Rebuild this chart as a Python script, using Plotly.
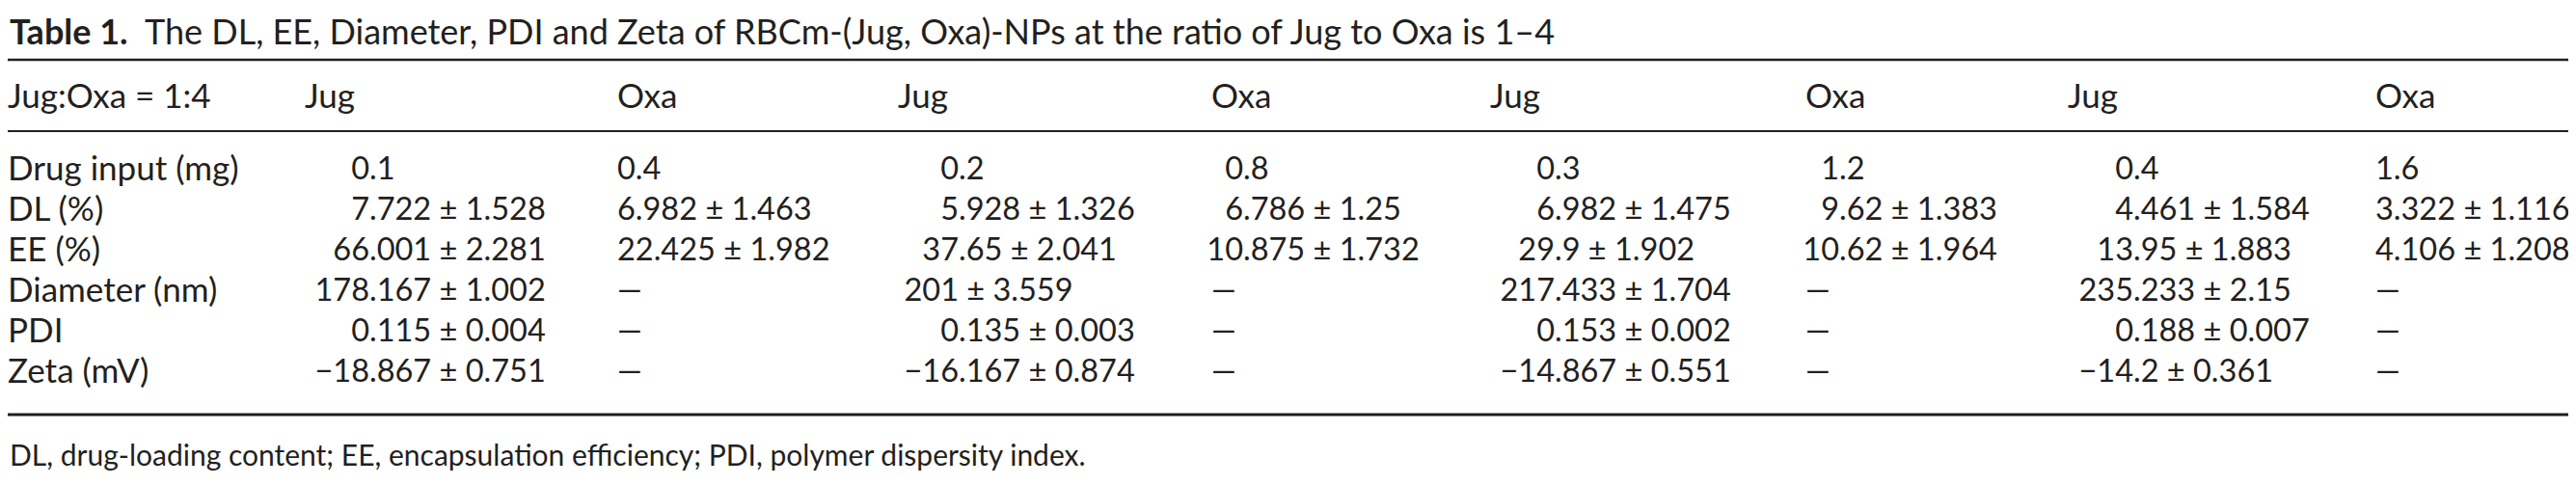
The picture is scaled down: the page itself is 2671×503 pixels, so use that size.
import plotly.graph_objects as go

# table content
row_labels = ["Drug input (mg)", "DL (%)", "EE (%)", "Diameter (nm)", "PDI", "Zeta (mV)"]
drugs = ["Jug", "Oxa"]
ratio_label = "Jug:Oxa = 1:4"

jug_input = [0.1, 0.2, 0.3, 0.4]
oxa_input = [0.4, 0.8, 1.2, 1.6]
jug_dl = [7.722, 5.928, 6.982, 4.461]
jug_dl_sd = [1.528, 1.326, 1.475, 1.584]
oxa_dl = [6.982, 6.786, 9.62, 3.322]
oxa_dl_sd = [1.463, 1.25, 1.383, 1.116]
jug_ee = [66.001, 37.65, 29.9, 13.95]
jug_ee_sd = [2.281, 2.041, 1.902, 1.883]
oxa_ee = [22.425, 10.875, 10.62, 4.106]
oxa_ee_sd = [1.982, 1.732, 1.964, 1.208]
diameter = [178.167, 201, 217.433, 235.233]
diameter_sd = [1.002, 3.559, 1.704, 2.15]
pdi = [0.115, 0.135, 0.153, 0.188]
pdi_sd = [0.004, 0.003, 0.002, 0.007]
zeta = [-18.867, -16.167, -14.867, -14.2]
zeta_sd = [0.751, 0.874, 0.551, 0.361]

title = "<b>Table 1.</b>  The DL, EE, Diameter, PDI and Zeta of RBCm-(Jug, Oxa)-NPs at the ratio of Jug to Oxa is 1–4"
footnote = "DL, drug-loading content; EE, encapsulation efficiency; PDI, polymer dispersity index."

# layout (pixels)
W, H = 2671, 503
FONT = "Lato"
SIZE = 35
NUM_SIZE = 32.5
TITLE_SIZE = 36
NOTE_SIZE = 30
INK = "#231f20"
header_y = 95
row_y0 = 170
row_step = 42
footnote_y = 463
rules = [(54, 2.5), (128, 2), (422, 3)]
jug_head_x = [308, 923, 1537, 2136]
oxa_head_x = [632, 1248, 1864, 2455]
jug_dec_x = [375, 986, 1604, 2204]
oxa_dec_x = [None, 1281, 1899, None]  # None -> plain left aligned


def num(v):
    return f"{v:g}".replace("-", "−")


def cell(m, sd=None):
    return num(m) if sd is None else f"{num(m)} ± {num(sd)}"


def column(inp, means_sds, i):
    out = [cell(inp[i])]
    for pair in means_sds:
        out.append("—" if pair is None else cell(pair[0][i], pair[1][i]))
    return out


jug_cols = [column(jug_input, [(jug_dl, jug_dl_sd), (jug_ee, jug_ee_sd), (diameter, diameter_sd),
                               (pdi, pdi_sd), (zeta, zeta_sd)], i) for i in range(4)]
oxa_cols = [column(oxa_input, [(oxa_dl, oxa_dl_sd), (oxa_ee, oxa_ee_sd), None, None, None], i)
            for i in range(4)]

row_y = [row_y0 + k * row_step for k in range(len(row_labels))]

fig = go.Figure()


def add_text(xs, ys, texts, pos, size=SIZE):
    fig.add_trace(go.Scatter(
        x=xs, y=ys, text=texts, mode="text", textposition=pos,
        textfont=dict(family=FONT, size=size, color=INK),
        hoverinfo="skip", showlegend=False, cliponaxis=False,
    ))


def add_column(texts, head_x, dec_x):
    # numbers line up on the decimal point of the first value
    lx, ly, lt, rx, ry, rt = [], [], [], [], [], []
    for y, t in zip(row_y, texts):
        if t == "—" or dec_x is None:
            rx.append(head_x); ry.append(y); rt.append(t)
            continue
        first = t.split(" ±")[0]
        left = first.split(".")[0] if "." in first else first
        lx.append(dec_x); ly.append(y); lt.append(left)
        rx.append(dec_x); ry.append(y); rt.append(t[len(left):])
    if lt:
        add_text(lx, ly, lt, "middle left", NUM_SIZE)
    if rt:
        add_text(rx, ry, rt, "middle right", NUM_SIZE)


# header row and stub column
add_text([0] + jug_head_x + oxa_head_x, [header_y] * 9,
         [ratio_label] + [drugs[0]] * 4 + [drugs[1]] * 4, "middle right")
add_text([0] * len(row_labels), row_y, row_labels, "middle right")

for i in range(4):
    add_column(jug_cols[i], jug_head_x[i], jug_dec_x[i])
    add_column(oxa_cols[i], oxa_head_x[i], oxa_dec_x[i])

for y, w in rules:
    fig.add_shape(type="line", xref="paper", x0=0, x1=1, yref="y", y0=y, y1=y,
                  line=dict(color=INK, width=w))

fig.add_annotation(x=0, y=0, xref="x", yref="y", text=title, showarrow=False,
                   xanchor="left", yanchor="top",
                   font=dict(family=FONT, size=TITLE_SIZE, color=INK))
fig.add_annotation(x=0, y=footnote_y, xref="x", yref="y", text=footnote, showarrow=False,
                   xanchor="left", yanchor="middle",
                   font=dict(family=FONT, size=NOTE_SIZE, color=INK))

fig.update_xaxes(range=[0, W], visible=False, fixedrange=True)
fig.update_yaxes(range=[H, 0], visible=False, fixedrange=True)
fig.update_layout(
    width=W, height=H,
    margin=dict(l=0, r=0, t=0, b=0),
    paper_bgcolor="white", plot_bgcolor="white",
)

fig.write_html("out.html")
